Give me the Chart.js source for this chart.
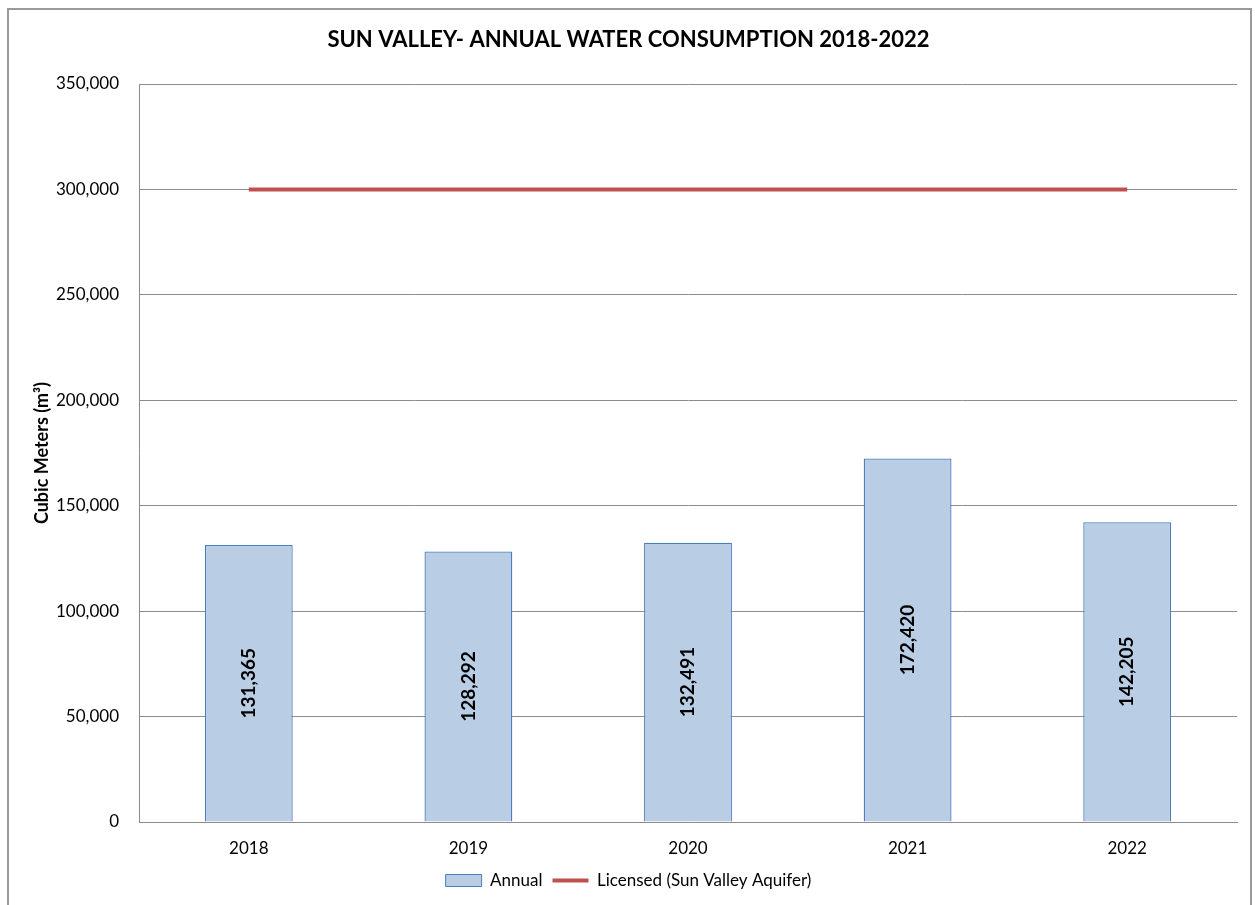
<!DOCTYPE html>
<html>
<head>
<meta charset="utf-8">
<script src="https://cdn.jsdelivr.net/npm/chart.js@4"></script>
<style>
  html, body { margin: 0; padding: 0; background: #ffffff; }
  #wrap { position: relative; width: 1255px; height: 905px; overflow: hidden; }
  #frame { position: absolute; left: 7px; top: 8px; width: 1241px; height: 1000px; border: 2px solid #9a9a9a; pointer-events: none; }
  canvas { position: absolute; left: 0; top: 0; }
</style>
</head>
<body>
<div id="wrap">
  <canvas id="c" width="1255" height="905"></canvas>
  <div id="frame"></div>
</div>
<script>
const chartTitle = 'SUN VALLEY- ANNUAL WATER CONSUMPTION 2018-2022';
const yAxisTitle = 'Cubic Meters (m³)';
const categories = ['2018', '2019', '2020', '2021', '2022'];
const annualValues = [131365, 128292, 132491, 172420, 142205];
const licensedValues = [300000, 300000, 300000, 300000, 300000];
const seriesNames = ['Annual', 'Licensed (Sun Valley Aquifer)'];
const yMin = 0, yMax = 350000, yStep = 50000;

const FONT = 'Lato, "Open Sans", sans-serif';
const fmt = v => Number(v).toLocaleString('en-US');

const barLabels = {
  id: 'barLabels',
  afterDatasetsDraw(chart) {
    const ctx = chart.ctx;
    const meta = chart.getDatasetMeta(0);
    ctx.save();
    ctx.font = 'bold 19px ' + FONT;
    ctx.fillStyle = '#000000';
    ctx.textAlign = 'center';
    ctx.textBaseline = 'middle';
    meta.data.forEach((el, i) => {
      const p = el.getProps(['x', 'y', 'base'], true);
      const cy = (p.y + p.base) / 2;
      ctx.save();
      ctx.translate(p.x, cy);
      ctx.rotate(-Math.PI / 2);
      ctx.fillText(fmt(annualValues[i]), 0, 0);
      ctx.restore();
    });
    ctx.restore();
  }
};

new Chart(document.getElementById('c'), {
  data: {
    labels: categories,
    datasets: [
      {
        type: 'bar',
        label: seriesNames[0],
        data: annualValues,
        backgroundColor: '#B9CDE5',
        borderColor: '#4A7EBB',
        borderWidth: 1.3,
        categoryPercentage: 1.0,
        barPercentage: 0.4,
        order: 2
      },
      {
        type: 'line',
        label: seriesNames[1],
        data: licensedValues,
        borderColor: '#C0504D',
        backgroundColor: '#C0504D',
        borderWidth: 4,
        pointRadius: 0,
        pointStyle: 'line',
        fill: false,
        order: 1
      }
    ]
  },
  options: {
    responsive: false,
    animation: false,
    devicePixelRatio: 1,
    layout: { padding: { left: 20, right: 18, top: 27, bottom: 6 } },
    plugins: {
      title: {
        display: true,
        text: chartTitle,
        color: '#000000',
        font: { family: FONT, size: 22, weight: 'bold' },
        padding: { top: 0, bottom: 30.6 }
      },
      legend: {
        position: 'bottom',
        labels: {
          color: '#000000',
          font: { family: FONT, size: 17 },
          usePointStyle: true,
          pointStyleWidth: 36,
          boxHeight: 12,
          padding: 10,
          generateLabels(chart) {
            return chart.data.datasets.map((ds, i) => ({
              text: ds.label,
              fillStyle: ds.backgroundColor,
              strokeStyle: ds.borderColor,
              lineWidth: i === 0 ? 1 : 4,
              pointStyle: i === 0 ? 'rect' : 'line',
              datasetIndex: i,
              hidden: false
            }));
          }
        }
      },
      tooltip: { enabled: false }
    },
    scales: {
      x: {
        grid: { display: false, drawTicks: false },
        border: { display: true, color: '#8c8c8c', width: 1 },
        ticks: { color: '#000000', font: { family: FONT, size: 17 }, padding: 16 },
        afterFit(scale) { scale.height = 40; }
      },
      y: {
        min: yMin,
        max: yMax,
        grid: { color: '#8c8c8c', drawTicks: false, lineWidth: 1 },
        border: { display: true, color: '#8c8c8c', width: 1 },
        ticks: {
          stepSize: yStep,
          color: '#000000',
          font: { family: FONT, size: 17 },
          padding: 20,
          callback: v => fmt(v)
        },
        title: {
          display: true,
          text: yAxisTitle,
          color: '#000000',
          font: { family: FONT, size: 18, weight: 'bold' },
          padding: { top: 11, bottom: 0 }
        },
        afterFit(scale) { scale.width = 119; }
      }
    }
  },
  plugins: [barLabels]
});
</script>
</body>
</html>
